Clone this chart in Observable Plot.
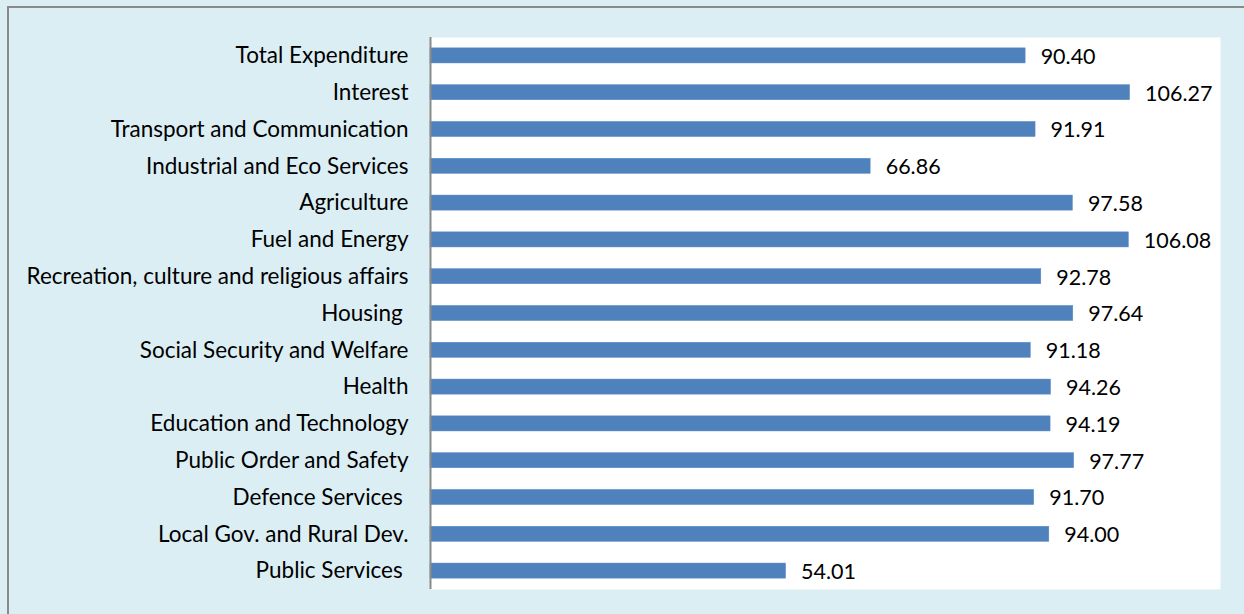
<!DOCTYPE html>
<html>
<head>
<meta charset="utf-8">
<script src="https://cdn.jsdelivr.net/npm/d3@7"></script>
<script src="https://cdn.jsdelivr.net/npm/@observablehq/plot@0.6"></script>
<style>
  html, body { margin: 0; padding: 0; background: #dbeef4; overflow: hidden; }
  #wrap { position: relative; width: 1244px; height: 614px; }
  #frame { position: absolute; left: 7px; top: 6px; width: 1260px; height: 640px; border: 2px solid #8a8a8a; box-sizing: border-box; pointer-events: none; }
  #chart svg { display: block; }
  #chart text { white-space: pre; }
</style>
</head>
<body>
<div id="wrap">
  <div id="chart"></div>
  <div id="frame"></div>
</div>
<script>
const categories = [
  "Total Expenditure",
  "Interest",
  "Transport and Communication",
  "Industrial and Eco Services",
  "Agriculture",
  "Fuel and Energy",
  "Recreation, culture and religious affairs",
  "Housing ",
  "Social Security and Welfare",
  "Health",
  "Education and Technology",
  "Public Order and Safety",
  "Defence Services ",
  "Local Gov. and Rural Dev.",
  "Public Services "
];
const values = [90.40, 106.27, 91.91, 66.86, 97.58, 106.08, 92.78, 97.64, 91.18, 94.26, 94.19, 97.77, 91.70, 94.00, 54.01];

const data = categories.map((c, i) => ({category: c, value: values[i]}));

const chart = Plot.plot({
  width: 1244,
  height: 614,
  marginLeft: 430,
  marginRight: 24,
  marginTop: 37,
  marginBottom: 25,
  style: {background: "transparent", fontFamily: "Lato, 'Open Sans', sans-serif", fontSize: "22px", color: "#000"},
  x: {domain: [0, 120], axis: null},
  y: {domain: categories, paddingInner: 0.59, paddingOuter: 0.295, round: false, label: null},
  marks: [
    Plot.frame({fill: "white", stroke: "none"}),
    Plot.barX(data, {x: "value", y: "category", fill: "#4f81bd", stroke: "#5b8cc6", strokeWidth: 0.5}),
    Plot.ruleX([0], {stroke: "#8a8a8a", strokeWidth: 2}),
    Plot.axisY({tickSize: 0, tickPadding: 22, label: null, fontSize: 22.5, fill: "#000"}),
    Plot.text(data, {x: "value", y: "category", text: d => d.value.toFixed(2), dx: 15, dy: 1, textAnchor: "start", fontSize: 21.5, fill: "#000"})
  ]
});
document.getElementById("chart").appendChild(chart);
</script>
</body>
</html>
